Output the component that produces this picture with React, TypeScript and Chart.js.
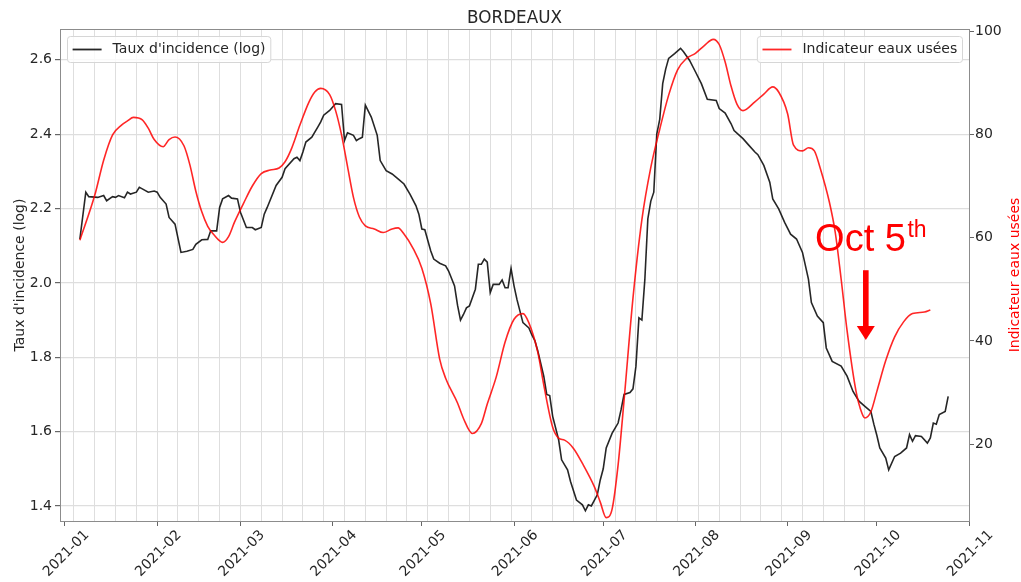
import React, { useEffect, useRef } from 'react';
import { Chart, registerables } from 'chart.js';

Chart.register(...registerables);

// x values are days since 2021-01-01
const MONTH_TICK_DAYS = [0, 31, 59, 90, 120, 151, 181, 212, 243, 273, 304];
const MONTH_TICK_LABELS = ['2021-01', '2021-02', '2021-03', '2021-04', '2021-05', '2021-06', '2021-07', '2021-08', '2021-09', '2021-10', '2021-11'];
const WEEK_GRID_DAYS = [3, 10, 17, 24, 31, 38, 45, 52, 59, 66, 73, 80, 87, 94, 101, 108, 115, 122, 129, 136, 143, 150, 157, 164, 171, 178, 185, 192, 199, 206, 213, 220, 227, 234, 241, 248, 255, 262, 269];
const LEFT_TICKS = [1.4, 1.6, 1.8, 2.0, 2.2, 2.4, 2.6];
const RIGHT_TICKS = [20, 40, 60, 80, 100];

const incidenceDays = [5, 7, 8, 11, 13, 14, 16, 17, 18, 20, 21, 22, 24, 25, 26, 28, 30, 31, 32, 34, 35, 37, 39, 41, 43, 44, 46, 48, 49, 51, 52, 53, 55, 56, 58, 59, 61, 63, 64, 66, 67, 68, 71, 73, 74, 77, 78, 79, 80, 81, 83, 85, 86, 87, 89, 91, 93, 94, 95, 97, 98, 99, 100, 101, 103, 105, 106, 108, 110, 112, 114, 116, 118, 119, 120, 121, 123, 124, 126, 128, 129, 131, 132, 133, 134, 135, 136, 138, 139, 140, 141, 142, 143, 144, 146, 147, 148, 149, 150, 151, 152, 154, 156, 157, 158, 159, 161, 162, 163, 164, 166, 167, 169, 170, 172, 174, 175, 176, 177, 179, 180, 181, 182, 184, 186, 187, 188, 190, 191, 192, 193, 194, 195, 196, 197, 198, 199, 200, 201, 202, 203, 205, 207, 208, 210, 212, 214, 216, 219, 220, 222, 224, 225, 228, 230, 232, 233, 235, 237, 238, 240, 242, 244, 246, 248, 250, 251, 253, 255, 256, 258, 261, 263, 265, 267, 269, 271, 272, 273, 274, 276, 277, 279, 281, 283, 284, 285, 286, 288, 290, 291, 292, 293, 294, 296, 297];
const incidenceValues = [2.118, 2.244, 2.232, 2.230, 2.235, 2.221, 2.232, 2.230, 2.235, 2.229, 2.244, 2.239, 2.244, 2.257, 2.253, 2.244, 2.247, 2.244, 2.230, 2.212, 2.176, 2.158, 2.082, 2.085, 2.090, 2.104, 2.116, 2.117, 2.140, 2.140, 2.203, 2.226, 2.235, 2.228, 2.226, 2.190, 2.149, 2.149, 2.143, 2.149, 2.185, 2.203, 2.262, 2.284, 2.307, 2.334, 2.338, 2.329, 2.352, 2.379, 2.392, 2.419, 2.433, 2.451, 2.464, 2.482, 2.480, 2.383, 2.404, 2.397, 2.383, 2.388, 2.392, 2.478, 2.446, 2.397, 2.329, 2.302, 2.293, 2.280, 2.266, 2.239, 2.208, 2.185, 2.145, 2.143, 2.086, 2.064, 2.053, 2.046, 2.032, 1.992, 1.940, 1.900, 1.915, 1.933, 1.938, 1.983, 2.050, 2.050, 2.064, 2.056, 1.974, 1.996, 1.996, 2.008, 1.987, 1.987, 2.039, 1.992, 1.955, 1.893, 1.879, 1.860, 1.845, 1.817, 1.749, 1.700, 1.697, 1.641, 1.578, 1.524, 1.497, 1.466, 1.416, 1.403, 1.387, 1.403, 1.400, 1.430, 1.470, 1.500, 1.556, 1.596, 1.623, 1.659, 1.700, 1.705, 1.715, 1.776, 1.906, 1.900, 2.010, 2.172, 2.220, 2.244, 2.400, 2.440, 2.536, 2.575, 2.604, 2.617, 2.631, 2.622, 2.599, 2.568, 2.536, 2.494, 2.491, 2.469, 2.457, 2.428, 2.410, 2.388, 2.370, 2.352, 2.345, 2.316, 2.271, 2.226, 2.199, 2.163, 2.131, 2.118, 2.082, 2.010, 1.947, 1.911, 1.893, 1.825, 1.789, 1.776, 1.749, 1.708, 1.682, 1.668, 1.654, 1.620, 1.590, 1.556, 1.529, 1.497, 1.533, 1.542, 1.556, 1.592, 1.574, 1.589, 1.587, 1.569, 1.583, 1.623, 1.620, 1.646, 1.654, 1.695];

const wastewaterDays = [5, 10, 13, 16, 19, 21, 23, 26, 28, 30, 33, 35, 37, 40, 42, 44, 46, 48, 50, 53, 55, 57, 60, 63, 66, 69, 72, 74, 76, 79, 82, 84, 86, 89, 91, 93, 95, 97, 99, 101, 104, 107, 110, 112, 114, 117, 120, 123, 126, 128, 132, 134, 137, 140, 142, 145, 148, 151, 154, 156, 159, 161, 164, 166, 168, 171, 174, 178, 180, 182, 184, 186, 188, 191, 194, 197, 200, 203, 206, 209, 212, 215, 218, 220, 222, 224, 226, 228, 232, 235, 238, 240, 243, 245, 248, 250, 252, 254, 257, 259, 261, 263, 266, 268, 269, 271, 273, 276, 279, 282, 285, 289, 291];
const wastewaterValues = [59.5, 68.2, 75.0, 79.9, 81.8, 82.6, 83.3, 82.8, 81.2, 79.0, 77.6, 79.0, 79.5, 77.8, 74.1, 69.0, 65.0, 62.2, 60.6, 59.1, 60.2, 63.0, 66.6, 70.0, 72.4, 73.1, 73.5, 74.7, 77.0, 81.8, 86.2, 88.2, 88.9, 87.7, 84.6, 79.9, 73.8, 67.8, 64.0, 62.3, 61.7, 61.0, 61.7, 61.9, 60.7, 58.0, 54.1, 47.2, 36.5, 32.8, 28.0, 25.0, 22.1, 24.0, 27.8, 33.0, 39.8, 44.2, 45.3, 43.5, 37.8, 31.5, 23.3, 21.2, 20.8, 19.2, 16.3, 11.8, 8.8, 5.8, 7.5, 16.0, 28.5, 48.3, 63.5, 73.6, 81.0, 87.6, 92.5, 94.7, 95.7, 97.2, 98.4, 97.4, 94.0, 89.3, 85.8, 84.6, 86.3, 87.8, 89.2, 88.2, 84.0, 77.9, 76.8, 77.4, 76.8, 73.4, 67.0, 61.1, 52.0, 42.0, 30.3, 26.0, 25.1, 26.3, 30.2, 36.2, 40.8, 43.7, 45.3, 45.6, 46.0];

const TITLE = 'BORDEAUX';
const LEFT_LABEL = "Taux d'incidence (log)";
const RIGHT_LABEL = 'Indicateur eaux usées';
const NOTE_MAIN = 'Oct 5';
const NOTE_SUP = 'th';
const NOTE_DAY = 269.3;
const NOTE_TIP = 40.2;
const NOTE_TAIL = 53.7;
const NOTE_TEXT = 57.4;

const BLACK = 'rgba(0,0,0,0.85)';
const RED = 'rgba(255,0,0,0.85)';
const TEXT = '#262626';
const SPINE = '#8c8c8c';
const GRID = '#dedede';
const FONT = '"DejaVu Sans", sans-serif';

const fixTicks = (values: number[]) => (scale: any) => {
  scale.ticks = values.map((v) => ({ value: v }));
};

const decor = {
  id: 'decor',
  afterDraw(chart: any) {
    const ctx = chart.ctx;
    const a = chart.chartArea;
    const xs = chart.scales.x;
    const y1 = chart.scales.y1;
    ctx.save();
    // top spine
    ctx.strokeStyle = SPINE;
    ctx.lineWidth = 1;
    ctx.beginPath();
    ctx.moveTo(a.left, a.top + 0.5);
    ctx.lineTo(a.right, a.top + 0.5);
    ctx.stroke();

    // title
    ctx.fillStyle = TEXT;
    ctx.font = '16.8px ' + FONT;
    ctx.textAlign = 'center';
    ctx.textBaseline = 'alphabetic';
    ctx.fillText(TITLE, (a.left + a.right) / 2, 23);

    // axis titles
    const midY = (a.top + a.bottom) / 2;
    ctx.font = '14px ' + FONT;
    ctx.save();
    ctx.translate(24, midY);
    ctx.rotate(-Math.PI / 2);
    ctx.fillStyle = TEXT;
    ctx.fillText(LEFT_LABEL, 0, 0);
    ctx.restore();
    ctx.save();
    ctx.translate(1018.5, midY);
    ctx.rotate(-Math.PI / 2);
    ctx.fillStyle = '#ff0000';
    ctx.fillText(RIGHT_LABEL, 0, 0);
    ctx.restore();

    // legends
    const drawLegend = (label: string, color: string, alignRight: boolean) => {
      ctx.font = '14px ' + FONT;
      const tw = ctx.measureText(label).width;
      const w = tw + 50.4;
      const h = 26;
      const x = alignRight ? a.right - 7 - w : a.left + 7;
      const y = a.top + 7;
      ctx.beginPath();
      ctx.roundRect(x + 0.5, y + 0.5, w, h, 3);
      ctx.fillStyle = 'rgba(255,255,255,0.8)';
      ctx.fill();
      ctx.strokeStyle = '#d6d6d6';
      ctx.lineWidth = 1;
      ctx.stroke();
      const ly = y + h / 2 + 0.5;
      ctx.beginPath();
      ctx.moveTo(x + 5.6, ly);
      ctx.lineTo(x + 5.6 + 29, ly);
      ctx.strokeStyle = color;
      ctx.lineWidth = 1.8;
      ctx.stroke();
      ctx.fillStyle = TEXT;
      ctx.textAlign = 'left';
      ctx.textBaseline = 'middle';
      ctx.fillText(label, x + 5.6 + 29 + 11, ly);
    };
    drawLegend(LEFT_LABEL, BLACK, false);
    drawLegend(RIGHT_LABEL, RED, true);

    // annotation
    const ax = xs.getPixelForValue(NOTE_DAY);
    const tip = y1.getPixelForValue(NOTE_TIP);
    const tail = y1.getPixelForValue(NOTE_TAIL);
    const base = y1.getPixelForValue(NOTE_TEXT);
    ctx.fillStyle = '#ff0000';
    ctx.fillRect(ax - 2.8, tail, 5.6, tip - tail - 13);
    ctx.beginPath();
    ctx.moveTo(ax - 9, tip - 14);
    ctx.lineTo(ax + 9, tip - 14);
    ctx.lineTo(ax, tip);
    ctx.closePath();
    ctx.fill();
    ctx.textAlign = 'left';
    ctx.textBaseline = 'alphabetic';
    ctx.font = '38px "Liberation Sans", sans-serif';
    const tx = ax - 50.7;
    ctx.fillText(NOTE_MAIN, tx, base);
    const mw = ctx.measureText(NOTE_MAIN).width;
    ctx.font = '23px "Liberation Sans", sans-serif';
    ctx.fillText(NOTE_SUP, tx + mw + 1.5, base - 14);
    ctx.restore();
  },
};

export default function App() {
  const ref = useRef<HTMLCanvasElement | null>(null);
  useEffect(() => {
    if (!ref.current) return;
    const chart = new Chart(ref.current, {
      type: 'line',
      data: {
        datasets: [
          {
            label: RIGHT_LABEL,
            data: wastewaterDays.map((d, i) => ({ x: d, y: wastewaterValues[i] })),
            borderColor: RED,
            borderWidth: 1.6,
            pointRadius: 0,
            cubicInterpolationMode: 'monotone',
            yAxisID: 'y1',
            xAxisID: 'x',
            order: 0,
          },
          {
            label: LEFT_LABEL,
            data: incidenceDays.map((d, i) => ({ x: d, y: incidenceValues[i] })),
            borderColor: BLACK,
            borderWidth: 1.6,
            pointRadius: 0,
            tension: 0,
            yAxisID: 'y',
            xAxisID: 'x',
            order: 1,
          },
        ],
      } as any,
      options: {
        responsive: false,
        animation: false,
        events: [],
        layout: { padding: { top: 29, left: 0, right: 0, bottom: 0 } },
        plugins: { legend: { display: false }, title: { display: false }, tooltip: { enabled: false } },
        scales: {
          x: {
            type: 'linear',
            position: 'bottom',
            min: -1.68,
            max: 304,
            bounds: 'data',
            afterBuildTicks: fixTicks(MONTH_TICK_DAYS),
            afterFit: (s: any) => { s.height = 61; s.paddingLeft = 0; s.paddingRight = 0; },
            grid: { drawOnChartArea: false, drawTicks: true, tickLength: 5, tickColor: '#666', tickWidth: 1 },
            border: { display: true, color: SPINE, width: 1 },
            ticks: {
              autoSkip: false,
              minRotation: 45,
              maxRotation: 45,
              padding: 1,
              labelOffset: 22,
              color: TEXT,
              font: { family: FONT, size: 14 },
              callback: (v: any) => MONTH_TICK_LABELS[MONTH_TICK_DAYS.indexOf(Number(v))] ?? '',
            },
          },
          xg: {
            type: 'linear',
            position: 'bottom',
            min: -1.68,
            max: 304,
            bounds: 'data',
            afterBuildTicks: fixTicks(WEEK_GRID_DAYS),
            afterFit: (s: any) => { s.height = 0; s.paddingLeft = 0; s.paddingRight = 0; },
            grid: { drawOnChartArea: true, drawTicks: false, color: GRID, lineWidth: 1 },
            border: { display: false },
            ticks: { display: false },
          },
          y: {
            type: 'linear',
            position: 'left',
            min: 1.3595,
            max: 2.683,
            bounds: 'data',
            afterBuildTicks: fixTicks(LEFT_TICKS),
            afterFit: (s: any) => { s.width = 60; s.paddingTop = 0; s.paddingBottom = 0; },
            grid: { drawOnChartArea: true, drawTicks: true, tickLength: 5, color: GRID, tickColor: '#666', lineWidth: 1.2 },
            border: { display: true, color: SPINE, width: 1 },
            ticks: { padding: 3, color: TEXT, font: { family: FONT, size: 14 }, callback: (v: any) => Number(v).toFixed(1) },
          },
          y1: {
            type: 'linear',
            position: 'right',
            min: 5.15,
            max: 100.4,
            bounds: 'data',
            afterBuildTicks: fixTicks(RIGHT_TICKS),
            afterFit: (s: any) => { s.width = 52; s.paddingTop = 0; s.paddingBottom = 0; },
            grid: { drawOnChartArea: false, drawTicks: true, tickLength: 5, tickColor: '#666' },
            border: { display: true, color: SPINE, width: 1 },
            ticks: { padding: 1, color: TEXT, font: { family: FONT, size: 14 }, callback: (v: any) => String(Math.round(Number(v))) },
          },
        },
      } as any,
      plugins: [decor],
    });
    return () => chart.destroy();
  }, []);
  return (
    <div style={{ position: 'fixed', left: 0, top: 0, width: 1021, height: 582, background: '#fff' }}>
      <canvas ref={ref} width={1021} height={582} style={{ display: 'block' }} />
    </div>
  );
}
